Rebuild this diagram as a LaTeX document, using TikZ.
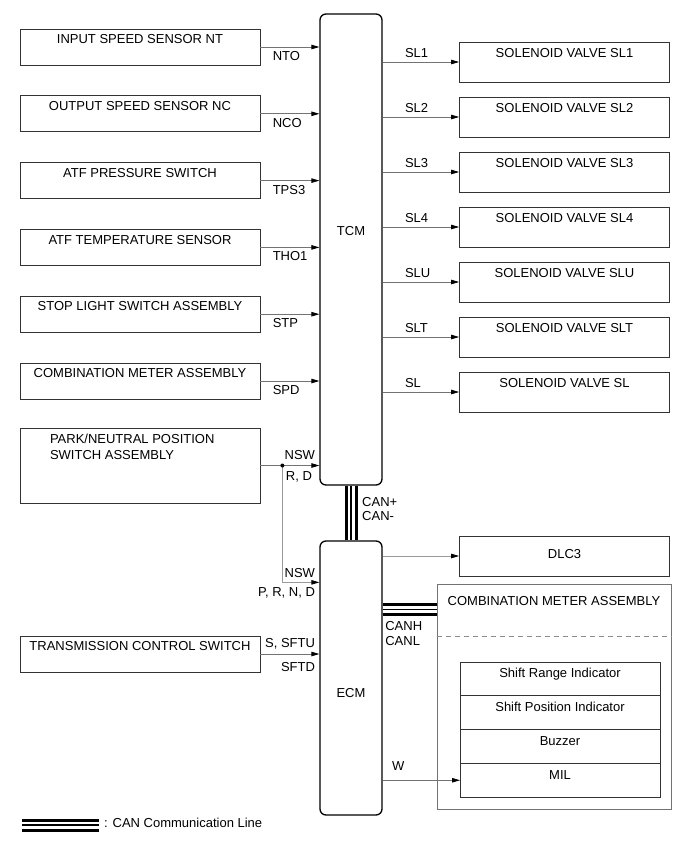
\documentclass[tikz,border=0pt]{standalone}
\usepackage{fontspec}
\setmainfont{Liberation Sans}
\usetikzlibrary{arrows.meta,positioning}
\newcommand{\diagfont}{\fontsize{13}{16}\selectfont}
\tikzset{
  unitbox/.style={rectangle, draw=black!80, line width=0.8pt, minimum width=240pt,
    minimum height=36pt, inner sep=0pt, align=center, font=\diagfont,
    text height=9.5pt, text depth=16pt},
  valvebox/.style={unitbox, minimum width=210pt, minimum height=40pt, text depth=18pt},
  ecubox/.style={rectangle, rounded corners=6pt, draw=black, line width=1.3pt,
    minimum width=62pt, inner sep=0pt, font=\diagfont},
  meterbox/.style={rectangle, draw=black!55, line width=0.8pt, inner sep=0pt},
  rowbox/.style={rectangle, draw=black!80, line width=0.8pt, minimum width=200pt,
    minimum height=33.75pt, inner sep=0pt, outer sep=0pt, font=\diagfont,
    text height=9.5pt, text depth=12pt},
  sigline/.style={-{Triangle[length=8pt,width=4.5pt,color=black]}, black!55, line width=0.8pt},
  sigtag/.style={font=\diagfont, inner sep=0pt, text=black},
  canouter/.style={line width=13pt, black},
  cangap/.style={line width=7pt, white},
  cancore/.style={line width=1.2pt, black},
}
\newcommand{\canwire}[2]{%
  \draw[canouter] #1 -- #2;
  \draw[cangap] #1 -- #2;
  \draw[cancore] #1 -- #2;}

\begin{document}
\begin{tikzpicture}[x=1pt, y=-1pt]
\useasboundingbox (0,0) rectangle (690,854);

% control units
\node[ecubox, minimum height=471pt, text depth=36.5pt] (tcm) at (351,249.5) {TCM};
\node[ecubox, minimum height=274pt, text height=40pt] (ecm) at (351,678) {ECM};

% inputs
\node[unitbox] (nt) at (140,47) {INPUT SPEED SENSOR NT};
\node[unitbox, below=30pt of nt] (nc) {OUTPUT SPEED SENSOR NC};
\node[unitbox, below=30pt of nc] (tps) {ATF PRESSURE SWITCH};
\node[unitbox, below=30pt of tps] (tho) {ATF TEMPERATURE SENSOR};
\node[unitbox, below=30pt of tho] (stp) {STOP LIGHT SWITCH ASSEMBLY};
\node[unitbox, below=30pt of stp] (spd) {COMBINATION METER ASSEMBLY};
\node[unitbox, minimum height=75pt, align=flush left, text width=180pt, text depth=53pt] (pnp) at (140,465.5) {PARK/NEUTRAL POSITION\\SWITCH ASSEMBLY};
\node[unitbox] (tcs) at (140,654) {TRANSMISSION CONTROL SWITCH};

% solenoids
\node[valvebox] (sl1) at (564.5,62) {SOLENOID VALVE SL1};
\node[valvebox, below=14.2pt of sl1] (sl2) {SOLENOID VALVE SL2};
\node[valvebox, below=14.2pt of sl2] (sl3) {SOLENOID VALVE SL3};
\node[valvebox, below=14.2pt of sl3] (sl4) {SOLENOID VALVE SL4};
\node[valvebox, below=14.2pt of sl4] (slu) {SOLENOID VALVE SLU};
\node[valvebox, below=14.2pt of slu] (slt) {SOLENOID VALVE SLT};
\node[valvebox, below=14.2pt of slt] (sl) {SOLENOID VALVE SL};
\node[valvebox, text depth=4pt] (dlc) at (564.5,556) {DLC3};

% combination meter
\node[meterbox, minimum width=234pt, minimum height=225pt] (cmeter) at (554,696.5) {};
\node[sigtag, anchor=north] (cmtitle) at ([yshift=-13pt]cmeter.north) {COMBINATION METER ASSEMBLY};
\draw[black!45, line width=0.8pt, dash pattern=on 5pt off 4pt] ([yshift=-53pt]cmeter.north west) -- ([yshift=-53pt]cmeter.north east);
\node[rowbox] (range) at (560,679) {Shift Range Indicator};
\node[rowbox, below=0pt of range] (position) {Shift Position Indicator};
\node[rowbox, below=0pt of position] (buzzer) {Buzzer};
\node[rowbox, below=0pt of buzzer] (mil) {MIL};

% signals into TCM
\foreach \src/\pin in {nt/NTO, nc/NCO, tps/TPS3, tho/THO1, stp/STP, spd/SPD}
  \draw[sigline] (\src) -- (\src -| tcm.west)
    node[pos=0, sigtag, anchor=north west, xshift=12pt, yshift=-4pt] {\pin};

\foreach \dst/\pin in {sl1/SL1, sl2/SL2, sl3/SL3, sl4/SL4, slu/SLU, slt/SLT, sl/SL}
  \draw[sigline] (tcm.east |- \dst) -- (\dst)
    node[pos=0, sigtag, anchor=base west, xshift=22pt, yshift=5pt] {\pin};

% neutral start switch
\coordinate (pnjoin) at ([xshift=22pt]pnp.east);
\coordinate (nswin) at ([yshift=-42pt]ecm.north west);
\draw[sigline] (pnp) -- (pnp -| tcm.west)
  node[pos=1, sigtag, anchor=base east, xshift=-4pt, yshift=6.5pt] {NSW}
  node[pos=1, sigtag, anchor=north east, xshift=-7pt, yshift=-5.5pt] {R, D};
\draw[sigline, black!40] (pnjoin) |- (nswin)
  node[pos=1, sigtag, anchor=base east, xshift=-4pt, yshift=5pt] {NSW}
  node[pos=1, sigtag, anchor=north east, xshift=-4pt, yshift=-5pt] {P, R, N, D};
\fill (pnjoin) circle (2pt);

\draw[sigline] (tcs) -- (tcs -| ecm.west)
  node[pos=1, sigtag, anchor=base east, xshift=-4pt, yshift=6.7pt] {S, SFTU}
  node[pos=1, sigtag, anchor=north east, xshift=-4pt, yshift=-8pt] {SFTD};

% ECM outputs
\draw[sigline, black!40] (ecm.east |- dlc) -- (dlc);
\draw[sigline] (ecm.east |- mil) -- (mil)
  node[pos=0, sigtag, anchor=base west, xshift=9pt, yshift=10pt] {W};

% CAN
\canwire{(tcm.south)}{(ecm.north)}
\node[sigtag, align=left, anchor=north west, font=\fontsize{13}{14}\selectfont] (canpm) at ([xshift=11pt, yshift=-12pt]tcm.south) {CAN+\\CAN-};
\coordinate (canm) at ([yshift=-26pt]cmeter.north west);
\canwire{(canm -| ecm.east)}{(canm)}
\node[sigtag, align=left, anchor=north west, font=\fontsize{13}{15}\selectfont] (canhl) at ([xshift=2.5pt, yshift=-12pt]canm -| ecm.east) {CANH\\CANL};

% legend
\node[sigtag, anchor=west] (legtext) at (104,823) {: CAN Communication Line};
\coordinate (legA) at (22,825);
\coordinate (legB) at (99,825);
\canwire{(legA)}{(legB)}
\end{tikzpicture}
\end{document}
